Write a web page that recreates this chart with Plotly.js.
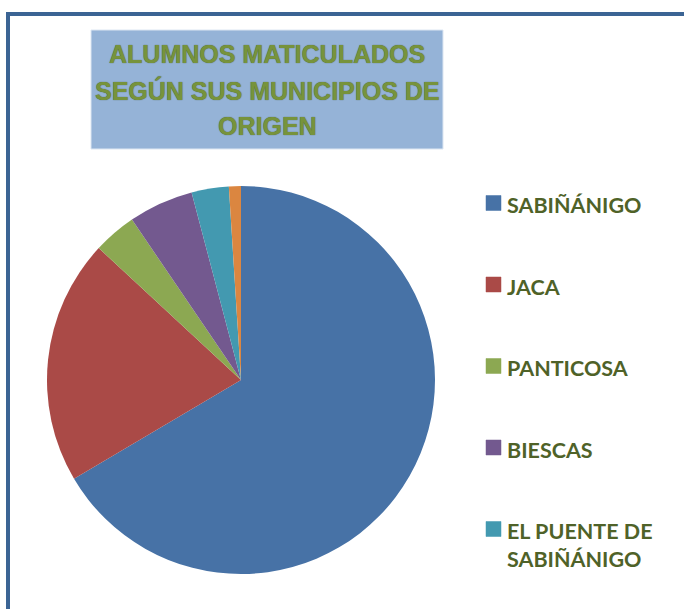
<!DOCTYPE html>
<html>
<head>
<meta charset="utf-8">
<script src="https://cdn.plot.ly/plotly-3.0.1.min.js"></script>
<style>html,body{margin:0;padding:0;background:#fff;}#chart{width:684px;height:609px;}</style>
</head>
<body>
<div id="chart"></div>
<script>
// Data
const labels = ["SABIÑÁNIGO", "JACA", "PANTICOSA", "BIESCAS", "EL PUENTE DE<br>SABIÑÁNIGO", "OTROS"];
const values = [66.5, 20.4, 3.6, 5.4, 3.1, 1.0];
const colors = ["#4772A6", "#AA4A47", "#8CA852", "#73598F", "#4399B0", "#DB8640"];
const legendShown = 5; // legend entries visible in the picture
const titleLines = ["ALUMNOS MATICULADOS", "SEGÚN SUS MUNICIPIOS DE", "ORIGEN"];

const W = 684, H = 609;
const px = x => x / W;
const py = y => 1 - y / H;

const shapes = [
  // outer frame (continues beyond the visible area)
  {type: "rect", xref: "paper", yref: "paper", x0: px(8), x1: 1.05, y0: -0.05, y1: py(14),
   line: {color: "#3B6494", width: 4}, fillcolor: "rgba(0,0,0,0)", layer: "below"},
  // title box
  {type: "rect", xref: "paper", yref: "paper", x0: px(91), x1: px(443), y0: py(149), y1: py(30),
   line: {color: "#DCE6F2", width: 1}, fillcolor: "#95B3D7", layer: "below"}
];
const annotations = [];
const titleMid = [54, 90, 126];
titleLines.forEach((t, i) => annotations.push({
  xref: "paper", yref: "paper", x: px(267), y: py(titleMid[i]), xanchor: "center", yanchor: "middle",
  showarrow: false, align: "center", text: t,
  font: {family: "'Liberation Sans', Arial, sans-serif", size: 25, color: "#77933C", weight: 700,
    shadow: "0px 0px 1px #3F4F1F"}
}));
const legY0 = 203, legStep = 81.5;
for (let i = 0; i < legendShown; i++) {
  const yc = legY0 + i * legStep;
  shapes.push({type: "rect", xref: "paper", yref: "paper",
    x0: px(486), x1: px(501), y0: py(yc + 7.5), y1: py(yc - 7.5),
    fillcolor: colors[i], line: {color: colors[i], width: 0.5}});
  annotations.push({xref: "paper", yref: "paper", x: px(505), y: py(yc - 13),
    xanchor: "left", yanchor: "top", align: "left", showarrow: false,
    text: labels[i], font: {family: "Lato, 'Open Sans', sans-serif", size: 21.5, color: "#4F6228", weight: 700}});
}

const data = [{
  type: "pie", labels: labels, values: values, sort: false,
  direction: "clockwise", rotation: 0,
  marker: {colors: colors, line: {width: 0}},
  textinfo: "none", hoverinfo: "label+percent",
  domain: {x: [px(47), px(435)], y: [py(574), py(186)]},
  showlegend: false
}];

const layout = {
  width: W, height: H,
  margin: {l: 0, r: 0, t: 0, b: 0},
  paper_bgcolor: "#ffffff",
  showlegend: false,
  shapes: shapes,
  annotations: annotations
};
Plotly.newPlot("chart", data, layout, {staticPlot: true});
</script>
</body>
</html>
